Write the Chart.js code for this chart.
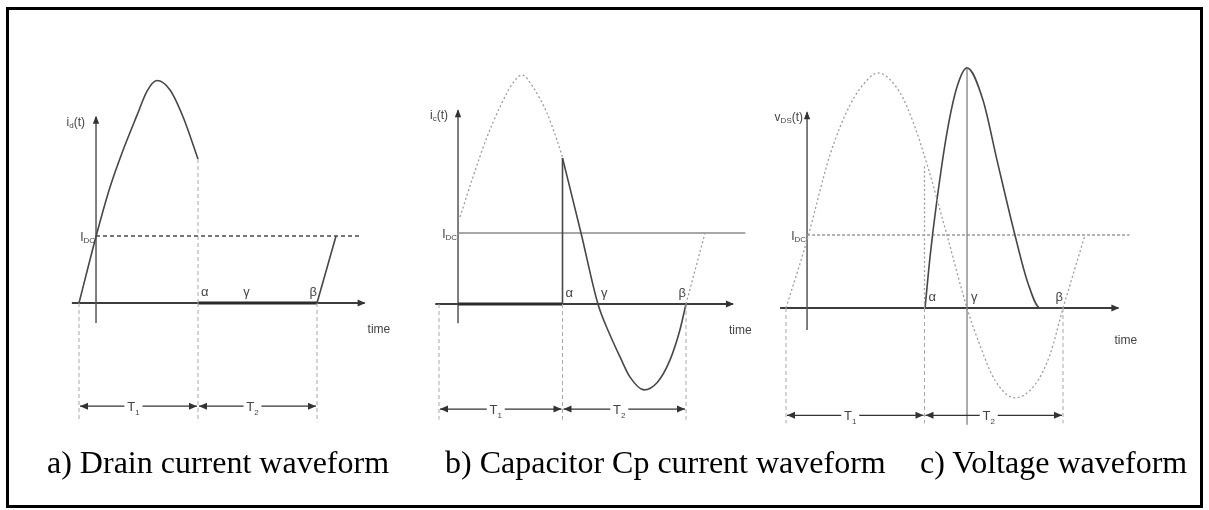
<!DOCTYPE html>
<html><head><meta charset="utf-8">
<script src="https://cdn.jsdelivr.net/npm/chart.js@4.4.0/dist/chart.umd.min.js"></script>
<style>
html,body{margin:0;padding:0;background:#fff;}
#page{position:relative;width:1209px;height:510px;overflow:hidden;background:#fff;}
#frame{position:absolute;left:6px;top:7px;width:1191px;height:495px;border:3px solid #000;}
.panel{position:absolute;top:0;}
.cap{position:absolute;top:444px;font-family:"Liberation Serif","Times New Roman",serif;font-size:32px;line-height:36px;color:#000;white-space:nowrap;}
</style></head><body>
<div id="page">
<div id="frame"></div>
<div class="panel" style="left:20px"><canvas id="ca" width="380" height="510"></canvas></div>
<div class="panel" style="left:400px"><canvas id="cb" width="380" height="510"></canvas></div>
<div class="panel" style="left:770px"><canvas id="cc" width="430" height="510"></canvas></div>
<div class="cap" style="left:47px">a) Drain current waveform</div>
<div class="cap" style="left:445px">b) Capacitor Cp current waveform</div>
<div class="cap" style="left:920px">c) Voltage waveform</div>
</div>
<script>
// ================= DATA (time in units of T, current/voltage in units of I_DC) =================
// Panel a: drain current
const A_events = [0, 1, 2];            // start, alpha, beta
const A_gammaT = 1.38;
const A_idc = 1;
const A_drainT = [0, 0.151, 0.261, 0.370, 0.487, 0.571, 0.655, 0.765, 0.874, 1.0];
const A_drainI = [0, 1.045, 1.73, 2.28, 2.80, 3.16, 3.32, 3.18, 2.78, 2.15];
const A_rampT = [2, 2.16];
const A_rampI = [0, 1];

// Panel b: capacitor Cp current
const B_events = [0, 1, 2];
const B_gammaT = 1.287;
const B_idc = 1;
const B_ghostT = [0.17, 0.275, 0.389, 0.494, 0.599, 0.672, 0.761, 0.874, 0.955, 1.0];
const B_ghostI = [1.225, 1.789, 2.352, 2.775, 3.113, 3.225, 3.056, 2.69, 2.31, 2.07];
const B_capT = [1.0, 1.15, 1.287, 1.385, 1.466, 1.547, 1.66, 1.765, 1.87, 1.95, 2.0];
const B_capI = [2.056, 1.0, 0, -0.437, -0.746, -1.03, -1.21, -1.11, -0.79, -0.37, 0];
const B_rampT = [2, 2.154];
const B_rampI = [0, 1];

// Panel c: drain-source voltage
const C_events = [0, 1, 2];
const C_gammaT = 1.307;
const C_idc = 1;
const C_ghostT = [0, 0.152, 0.318, 0.462, 0.585, 0.664, 0.823, 0.917, 1.018, 1.162, 1.307, 1.40, 1.509, 1.653, 1.798, 1.906, 2.0];
const C_ghostI = [0, 0.93, 2.10, 2.78, 3.12, 3.22, 2.95, 2.55, 1.97, 1.0, 0, -0.51, -0.99, -1.23, -1.05, -0.64, 0];
const C_rampT = [2, 2.159];
const C_rampI = [0, 1];
const C_vdsT = [1.004, 1.04, 1.09, 1.162, 1.235, 1.307, 1.422, 1.523, 1.653, 1.747, 1.834, 2.0];
const C_vdsI = [0, 0.70, 1.48, 2.40, 3.03, 3.29, 2.85, 2.03, 1.0, 0.34, 0, 0];

// ================= STYLES =================
const S = {
  axis:   {borderColor:'#3c3c3c', borderWidth:2},
  yaxis:  {borderColor:'#555', borderWidth:1.5},
  curve:  {borderColor:'#474747', borderWidth:1.6},
  ghost:  {borderColor:'#9c9c9c', borderWidth:1.3, borderDash:[2,2.5]},
  guide:  {borderColor:'#a8a8a8', borderWidth:1, borderDash:[4,3]},
  thick:  {borderColor:'#2a2a2a', borderWidth:3},
  idcDash:{borderColor:'#4a4a4a', borderWidth:1.4, borderDash:[4,3]},
  idcSolid:{borderColor:'#8a8a8a', borderWidth:1.5},
  idcDot: {borderColor:'#9a9a9a', borderWidth:1.3, borderDash:[3,2]}
};
const LABEL_FONT = '"Liberation Sans", Arial, sans-serif';
const INK = '#444';

function seg(xs, ys, st, smooth){
  const d = Object.assign({
    data: xs.map((x,k)=>({x:x, y:ys[k]})), showLine:true, pointRadius:0, pointHoverRadius:0,
    fill:false, clip:false, tension:0, borderCapStyle:'butt'
  }, st);
  if(smooth){ d.cubicInterpolationMode = 'monotone'; d.tension = 0.4; }
  return d;
}

function drawParts(ctx, x, y, parts, align){
  let w = 0;
  parts.forEach(p=>{ ctx.font = p[1]+'px '+LABEL_FONT; w += ctx.measureText(p[0]).width; });
  let cx = align==='right' ? x - w : (align==='center' ? x - w/2 : x);
  ctx.textBaseline = 'alphabetic'; ctx.textAlign = 'left';
  parts.forEach(p=>{ ctx.font = p[1]+'px '+LABEL_FONT; ctx.fillText(p[0], cx, y + p[2]); cx += ctx.measureText(p[0]).width; });
  return w;
}
function arrowHead(ctx, x, y, dir, len, half){
  len = len||7; half = half||3.2;
  ctx.beginPath();
  if(dir==='right'){ ctx.moveTo(x,y); ctx.lineTo(x-len,y-half); ctx.lineTo(x-len,y+half); }
  if(dir==='left'){ ctx.moveTo(x,y); ctx.lineTo(x+len,y-half); ctx.lineTo(x+len,y+half); }
  if(dir==='up'){ ctx.moveTo(x,y); ctx.lineTo(x-half,y+len); ctx.lineTo(x+half,y+len); }
  ctx.closePath(); ctx.fill();
}

function makePanel(p){
  const ds = [];
  p.events.forEach(t=> ds.push(seg([t,t],[0,p.bottom], S.guide)));
  p.extra.forEach(d=>ds.push(d));
  ds.push(seg(p.idcT, [p.idc, p.idc], p.idcStyle));
  ds.push(seg([p.yAxisT, p.yAxisT], p.yAxisI, S.yaxis));
  ds.push(seg(p.xAxisT, [0,0], S.axis));

  const deco = {
    id:'deco'+p.id,
    afterDatasetsDraw(chart){
      const ctx = chart.ctx, xs = chart.scales.x, ys = chart.scales.y;
      const X = t=>xs.getPixelForValue(t), Y = v=>ys.getPixelForValue(v);
      ctx.save();
      ctx.fillStyle = '#333';
      arrowHead(ctx, X(p.xAxisT[1])+1, Y(0), 'right', 8, 3.5);
      arrowHead(ctx, X(p.yAxisT), Y(p.yAxisI[1])-1, 'up', 8, 3.2);
      ctx.fillStyle = INK;
      drawParts(ctx, X(p.yAxisT)-p.yLabDx, Y(p.yAxisI[1])+9, p.yLabel, 'right');
      drawParts(ctx, X(p.yAxisT)-1, Y(p.idc)+5, [['I',12,0],['DC',8,2]], 'right');
      const gy = Y(0) - 7;
      drawParts(ctx, X(p.events[1])+p.greekDx[0], gy, [['\u03b1',13,0]], 'left');
      drawParts(ctx, X(p.gammaT)+p.greekDx[1], gy, [['\u03b3',13,0]], 'left');
      drawParts(ctx, X(p.events[2])+p.greekDx[2], gy, [['\u03b2',13,0]], 'right');
      drawParts(ctx, X(p.xAxisT[1])+p.timeDx, Y(0)+p.timeDy, [['time',12,0]], 'left');
      const ay = Y(p.arrowI);
      ctx.strokeStyle = '#333'; ctx.lineWidth = 1.3; ctx.setLineDash([]);
      [[p.events[0],p.events[1],'1'],[p.events[1],p.events[2],'2']].forEach(a=>{
        const x0 = X(a[0])+1, x1 = X(a[1])-1;
        ctx.beginPath(); ctx.moveTo(x0, ay); ctx.lineTo(x1, ay); ctx.stroke();
        ctx.fillStyle = '#333';
        arrowHead(ctx, x0, ay, 'left', 8, 3.5);
        arrowHead(ctx, x1, ay, 'right', 8, 3.5);
        const mx = (x0+x1)/2 - 5;
        ctx.fillStyle = '#fff'; ctx.fillRect(mx-9, ay-7, 18, 14);
        ctx.fillStyle = INK;
        drawParts(ctx, mx, ay+5, [['T',13,0],[a[2],8,4]], 'center');
      });
      ctx.restore();
    }
  };

  const xMin = (p.left - p.ox)/p.xppu, xMax = (p.left + p.width - p.ox)/p.xppu;
  const yMax = p.oy/p.yppu, yMin = (p.oy - 510)/p.yppu;
  new Chart(document.getElementById(p.id), {
    type:'scatter',
    data:{datasets: ds},
    options:{
      responsive:false, devicePixelRatio:1, animation:false,
      layout:{padding:0},
      plugins:{legend:{display:false}, tooltip:{enabled:false}},
      events:[],
      scales:{
        x:{type:'linear', min:xMin, max:xMax, display:false},
        y:{type:'linear', min:yMin, max:yMax, display:false}
      }
    },
    plugins:[deco]
  });
}

makePanel({
  id:'ca', left:20, width:380, ox:79, xppu:119, oy:303, yppu:67,
  events:A_events, gammaT:A_gammaT, idc:A_idc,
  idcT:[0.143, 2.36], idcStyle:S.idcDash,
  yAxisT:0.143, yAxisI:[-0.3, 2.78], xAxisT:[-0.06, 2.40],
  bottom:-1.78, arrowI:-1.54,
  yLabel:[['i',12,0],['d',8,2],['(t)',12,0]], yLabDx:11,
  greekDx:[3,0,0], timeDx:3, timeDy:30,
  extra:[
    seg([A_events[1],A_events[1]],[0,A_drainI[A_drainI.length-1]], S.guide),
    seg(A_drainT, A_drainI, S.curve, true),
    seg([A_events[1],A_events[2]],[0,0], S.thick),
    seg(A_rampT, A_rampI, S.curve)
  ]
});

makePanel({
  id:'cb', left:400, width:380, ox:439, xppu:123.5, oy:304, yppu:71,
  events:B_events, gammaT:B_gammaT, idc:B_idc,
  idcT:[0.154, 2.48], idcStyle:S.idcSolid,
  yAxisT:0.154, yAxisI:[-0.27, 2.73], xAxisT:[-0.03, 2.38],
  bottom:-1.63, arrowI:-1.48,
  yLabel:[['i',12,0],['c',8,2],['(t)',12,0]], yLabDx:10,
  greekDx:[3,3,0], timeDx:-4, timeDy:30,
  extra:[
    seg(B_ghostT, B_ghostI, S.ghost, true),
    seg([B_events[1],B_events[1]],[0,B_capI[0]], S.curve),
    seg(B_capT, B_capI, S.curve, true),
    seg(B_rampT, B_rampI, S.ghost),
    seg([B_events[0]+0.154,B_events[1]],[0,0], S.thick)
  ]
});

makePanel({
  id:'cc', left:770, width:430, ox:786, xppu:138.5, oy:308, yppu:73,
  events:C_events, gammaT:C_gammaT, idc:C_idc,
  idcT:[0.152, 2.48], idcStyle:S.idcDot,
  yAxisT:0.152, yAxisI:[-0.3, 2.68], xAxisT:[-0.043, 2.40],
  bottom:-1.58, arrowI:-1.47,
  yLabel:[['v',12,0],['DS',8,2],['(t)',12,0]], yLabDx:4,
  greekDx:[4,4,0], timeDx:-4, timeDy:36,
  extra:[
    seg([C_events[1],C_events[1]],[0,C_ghostI[8]], S.ghost),
    seg([C_gammaT,C_gammaT],[C_vdsI[5],-1.6], {borderColor:'#777', borderWidth:1.2}),
    seg(C_ghostT, C_ghostI, S.ghost, true),
    seg(C_rampT, C_rampI, S.ghost),
    seg(C_vdsT, C_vdsI, S.curve, true)
  ]
});
</script>
</body></html>
